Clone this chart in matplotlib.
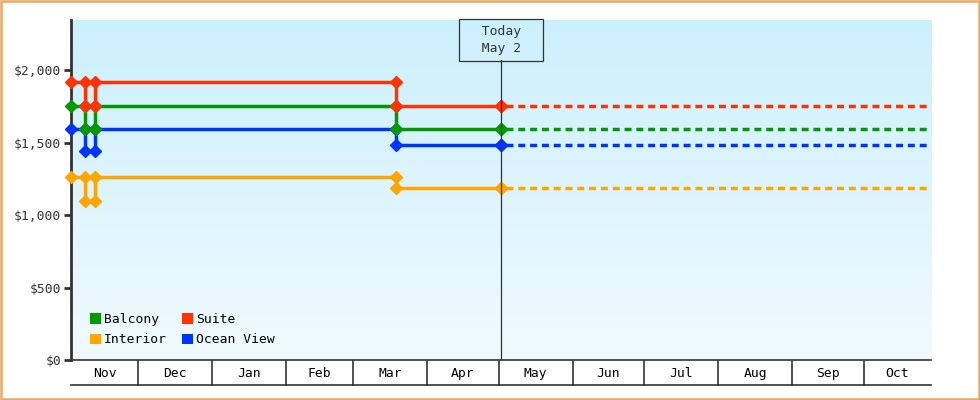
import numpy as np
import matplotlib
matplotlib.use("Agg")
import matplotlib.pyplot as plt
import matplotlib.dates as mdates
from matplotlib.patches import Patch, Rectangle
from matplotlib.ticker import FuncFormatter
from datetime import date

plt.rcParams['font.family'] = ['DejaVu Sans Mono']

# ---- data ----
change_dates = [date(2024, 11, 3), date(2024, 11, 9), date(2024, 11, 13),
                date(2025, 3, 19), date(2025, 5, 2)]
today = date(2025, 5, 2)
range_start = date(2024, 11, 3)
range_end = date(2025, 10, 29)

suite = [1920, 1750, 1920, 1750, 1750]
balcony = [1750, 1590, 1750, 1590, 1590]
ocean_view = [1590, 1440, 1590, 1480, 1480]
interior = [1260, 1100, 1260, 1189, 1189]

series_names = ["Interior", "Ocean View", "Balcony", "Suite"]
series_vals = [interior, ocean_view, balcony, suite]
series_cols = ["#ffa500", "#0033ff", "#009900", "#ff3300"]
legend_order = ["Balcony", "Interior", "Suite", "Ocean View"]

yticks = [0, 500, 1000, 1500, 2000]
month_starts = [date(2024, 12, 1), date(2025, 1, 1), date(2025, 2, 1), date(2025, 3, 1),
                date(2025, 4, 1), date(2025, 5, 1), date(2025, 6, 1), date(2025, 7, 1),
                date(2025, 8, 1), date(2025, 9, 1), date(2025, 10, 1)]
month_labels = ["Nov", "Dec", "Jan", "Feb", "Mar", "Apr", "May", "Jun", "Jul", "Aug", "Sep", "Oct"]

ink = "#333333"

fig = plt.figure(figsize=(9.8, 4.0), dpi=100)
fig.patches.append(Rectangle((0.001, 0.002), 0.998, 0.996, transform=fig.transFigure,
                             fill=False, ec="#e9a863", lw=1.8))
ax = fig.add_axes([71/980, 40/400, 860/980, 340/400])

# gradient background
grad = np.linspace(0, 1, 256).reshape(-1, 1)
top = np.array([0.80, 0.94, 0.99])
bot = np.array([0.94, 0.98, 1.0])
img = top + (bot - top) * grad[..., None]
ax.imshow(img, extent=[0, 1, 0, 1], transform=ax.transAxes, aspect="auto", zorder=0)

xs_num = mdates.date2num(change_dates)
for name, vals, col in zip(series_names, series_vals, series_cols):
    px, py = [xs_num[0]], [vals[0]]
    for i in range(1, len(vals)):
        px += [xs_num[i], xs_num[i]]
        py += [vals[i-1], vals[i]]
    ax.plot(px, py, color=col, lw=2.5, marker="D", ms=6, clip_on=False, zorder=3)
    ax.plot([mdates.date2num(today) + 2, mdates.date2num(range_end)], [vals[-1], vals[-1]],
            color=col, lw=2.5, dashes=(2.0, 1.4), zorder=2)

ax.set_xlim(mdates.date2num(range_start), mdates.date2num(range_end))
ax.set_ylim(0, 2345)

# today marker
tnum = mdates.date2num(today)
ax.axvline(tnum, ymin=0, ymax=(360-60)/340, color=ink, lw=0.9, zorder=4)
ax.text(tnum, (360-40)/340, "  Today  \n  May 2  ", transform=ax.get_xaxis_transform(),
        ha="center", va="center", ma="center", fontsize=9.4, color=ink, linespacing=1.35,
        bbox=dict(boxstyle="square,pad=0.5", fc="none", ec=ink, lw=0.9))

# y axis
ax.set_yticks(yticks)
ax.yaxis.set_major_formatter(FuncFormatter(lambda v, p: f"${v:,.0f}"))
ax.tick_params(axis="y", length=5, width=2, color=ink, labelcolor=ink, labelsize=9.4, pad=2)
for sp in ["top", "right"]:
    ax.spines[sp].set_visible(False)
ax.spines["left"].set_color(ink)
ax.spines["left"].set_linewidth(2)
ax.spines["bottom"].set_color(ink)
ax.spines["bottom"].set_linewidth(1.2)

# month cells
bounds = [mdates.date2num(range_start)] + list(mdates.date2num(month_starts)) + [mdates.date2num(range_end)]
mids = [(a + b) / 2 for a, b in zip(bounds[:-1], bounds[1:])]
ax.set_xticks(mdates.date2num(month_starts))
ax.set_xticklabels([])
ax.set_xticks(mids, minor=True)
ax.set_xticklabels(month_labels, minor=True)
ax.tick_params(axis="x", which="major", length=18.5, width=1.2, color=ink, direction="out")
ax.tick_params(axis="x", which="minor", length=0, labelsize=9.4, labelcolor="black", pad=5)
ax.plot([0, 1], [-25/340, -25/340], transform=ax.transAxes, color=ink, lw=1.2, clip_on=False)

handles = [Patch(fc=series_cols[series_names.index(n)], ec="none") for n in legend_order]
ax.legend(handles, legend_order, loc="lower left", bbox_to_anchor=(0.022, 0.04), ncol=2,
          frameon=False, fontsize=9.4, handlelength=0.85, handleheight=0.85, handletextpad=0.2,
          columnspacing=1.2, labelspacing=0.55, borderpad=0, borderaxespad=0)

fig.savefig("out.png", dpi=100)
